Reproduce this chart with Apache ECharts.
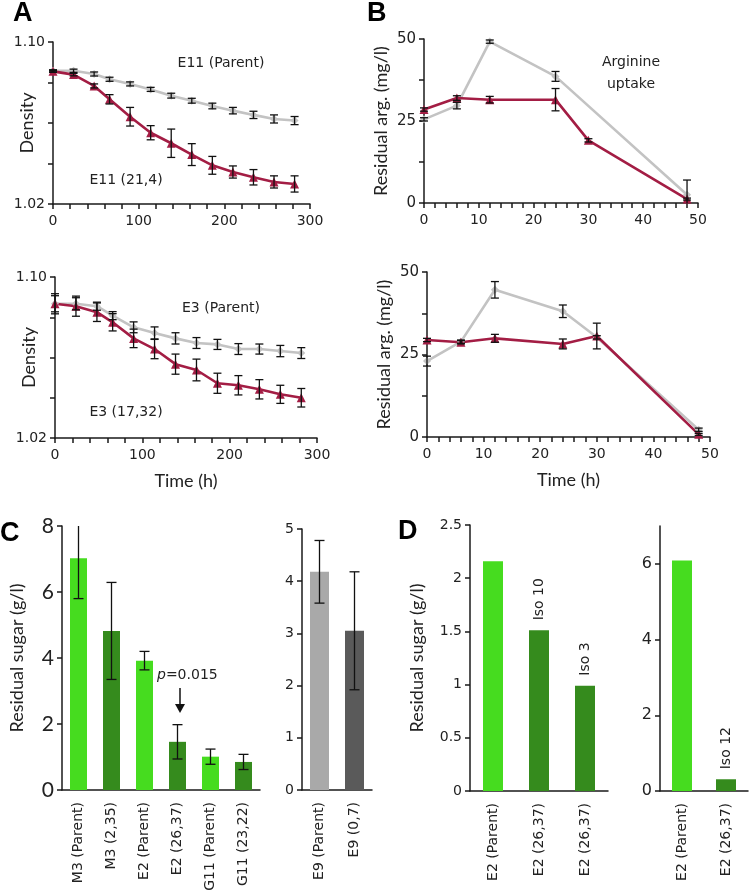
<!DOCTYPE html>
<html>
<head>
<meta charset="utf-8">
<script src="https://cdn.jsdelivr.net/npm/echarts@6/dist/echarts.min.js"></script>
<style>
  html, body { margin: 0; padding: 0; background: #fff; }
  #chart { width: 749px; height: 894px; }
</style>
</head>
<body>
<div id="chart"></div>
<script>
// ---- data ----
let timeA = [0, 24, 48, 66, 90, 114, 138, 162, 186, 210, 234, 258, 282]
let a1Parent = [1.0858, 1.0858, 1.0842, 1.0816, 1.0793, 1.0766, 1.0735, 1.0710, 1.0684, 1.0661, 1.0640, 1.0620, 1.0612]
let a1ParentErr = [0.0005, 0.0008, 0.001, 0.001, 0.001, 0.001, 0.0012, 0.0012, 0.0014, 0.0016, 0.0018, 0.002, 0.002]
let a1Evolved = [1.0855, 1.0839, 1.0783, 1.0717, 1.0631, 1.0552, 1.0500, 1.0444, 1.0391, 1.0358, 1.0332, 1.0309, 1.0299]
let a1EvolvedErr = [0.0005, 0.0006, 0.001, 0.0023, 0.0046, 0.0035, 0.007, 0.0054, 0.0044, 0.003, 0.0038, 0.003, 0.004]

let a2Parent = [1.0867, 1.0867, 1.0855, 1.0808, 1.0750, 1.0722, 1.0695, 1.0672, 1.0665, 1.0642, 1.0642, 1.0632, 1.0622]
let a2ParentErr = [0.004, 0.003, 0.002, 0.002, 0.0027, 0.003, 0.0028, 0.0027, 0.0025, 0.0027, 0.0025, 0.0028, 0.0027]
let a2Evolved = [1.0867, 1.0855, 1.0825, 1.0775, 1.0695, 1.0642, 1.0567, 1.0538, 1.0472, 1.0462, 1.0442, 1.0417, 1.0400]
let a2EvolvedErr = [0.005, 0.005, 0.0046, 0.0043, 0.0046, 0.0048, 0.005, 0.0054, 0.005, 0.0048, 0.0048, 0.0045, 0.0046]

let timeB = [0, 6, 12, 24, 30, 48]
let b1Parent = [25.5, 29.7, 49.2, 38.6, null, 2.5]
let b1ParentErr = [0.5, 1, 0.5, 1.5, null, 4.5]
let b1Evolved = [28.5, 32, 31.5, 31.5, 19.1, 1.2]
let b1EvolvedErr = [0.5, 0.7, 1, 3.4, 0.5, 0.3]

let b2Parent = [23, 28.9, 44.6, 38.1, 30.2, 2.2]
let b2ParentErr = [1.5, 0.5, 2.5, 1.9, 0.5, 0.5]
let b2Evolved = [29.4, 28.7, 29.9, 28.2, 30.6, 0.8]
let b2EvolvedErr = [0.5, 0.5, 1.2, 1.5, 3.9, 0.3]

let c1Names = ['M3 (Parent)', 'M3 (2,35)', 'E2 (Parent)', 'E2 (26,37)', 'G11 (Parent)', 'G11 (23,22)']
let c1Values = [7.02, 4.82, 3.92, 1.46, 1.01, 0.85]
let c1Err = [1.22, 1.47, 0.28, 0.52, 0.23, 0.23]

let c2Names = ['E9 (Parent)', 'E9 (0,7)']
let c2Values = [4.18, 3.05]
let c2Err = [0.6, 1.13]

let d1Names = ['E2 (Parent)', 'E2 (26,37)', 'E2 (26,37)']
let d1Values = [2.16, 1.51, 0.99]
let d1Labels = ['', 'Iso 10', 'Iso 3']

let d2Names = ['E2 (Parent)', 'E2 (26,37)']
let d2Values = [6.09, 0.31]
let d2Labels = ['', 'Iso 12']
let d2Ticks = [0, 2, 4, 6]

// ---- styles ----
let red = '#a31d44'
let grey = '#c3c3c3'
let lightGreen = '#46dc1f'
let darkGreen = '#358b1d'
let axisColor = '#1a1a1a'
let tickFont = 'DejaVu Sans'
let titleFont = 'Lato'

let myChart = echarts.init(document.getElementById('chart'))

let grids = [
    { left: 53, top: 42, width: 257, height: 162 },
    { left: 55, top: 277, width: 262, height: 161 },
    { left: 424, top: 39, width: 274, height: 164 },
    { left: 427, top: 272, width: 283, height: 165 },
    { left: 62, top: 526, width: 198, height: 264 },
    { left: 302, top: 529, width: 70, height: 261 },
    { left: 470, top: 525, width: 138, height: 266 },
    { left: 660, top: 526, width: 88, height: 265 }
]

function lineStyleAxis() {
    return { color: axisColor, width: 1.5 }
}

function valueX(idx, max, interval, showLabel, name) {
    return {
        gridIndex: idx, type: 'value', min: 0, max: max, interval: interval,
        name: name || '', nameLocation: 'middle', nameGap: 34, nameMoveOverlap: false,
        nameTextStyle: { fontFamily: titleFont, fontSize: 18, color: '#222' },
        axisLine: { show: true, onZero: false, lineStyle: lineStyleAxis() },
        axisTick: { show: true, length: 5, lineStyle: lineStyleAxis() },
        minorTick: { show: true, splitNumber: 5, length: 5, lineStyle: lineStyleAxis() },
        splitLine: { show: false },
        axisLabel: { show: showLabel, fontFamily: tickFont, fontSize: 14, color: '#222', margin: 10 }
    }
}

function valueY(idx, min, max, interval, shown, fontSize, name, gap, digits) {
    return {
        gridIndex: idx, type: 'value', min: min, max: max, interval: interval,
        name: name || '', nameLocation: 'middle', nameGap: gap || 30, nameMoveOverlap: false,
        nameTextStyle: { fontFamily: titleFont, fontSize: 18, color: '#222' },
        axisLine: { show: true, lineStyle: lineStyleAxis() },
        axisTick: { show: true, length: 5, lineStyle: lineStyleAxis() },
        splitLine: { show: false },
        axisLabel: {
            fontFamily: tickFont, fontSize: fontSize, color: '#222', margin: 8,
            showMaxLabel: true, showMinLabel: true,
            formatter: function (v) {
                if (shown && !shown.some(s => Math.abs(s - v) < 1e-6)) return ''
                return digits != null ? v.toFixed(digits) : String(v)
            }
        }
    }
}

function catX(idx, names) {
    return {
        gridIndex: idx, type: 'category', data: names,
        axisLine: { show: true, lineStyle: lineStyleAxis() },
        axisTick: { show: false },
        axisLabel: { rotate: 90, interval: 0, fontFamily: tickFont, fontSize: 14, color: '#222', margin: 12 }
    }
}

// error bar drawn through the axes of the series
function errorBar(capHalf) {
    return function (params, api) {
        let x = api.value(0), y = api.value(1), e = api.value(2)
        let hi = api.coord([x, y + e])
        let lo = api.coord([x, y - e])
        let cs = params.coordSys
        let top = Math.max(hi[1], cs.y)
        let bottom = Math.min(lo[1], cs.y + cs.height)
        let st = { stroke: '#111', lineWidth: 1.3 }
        let kids = [{ type: 'line', shape: { x1: hi[0], y1: top, x2: hi[0], y2: bottom }, style: st }]
        if (hi[1] >= cs.y) kids.push({ type: 'line', shape: { x1: hi[0] - capHalf, y1: hi[1], x2: hi[0] + capHalf, y2: hi[1] }, style: st })
        if (lo[1] <= cs.y + cs.height) kids.push({ type: 'line', shape: { x1: lo[0] - capHalf, y1: lo[1], x2: lo[0] + capHalf, y2: lo[1] }, style: st })
        return { type: 'group', children: kids }
    }
}

function pairs(xs, ys) {
    return xs.map((t, i) => [t, ys[i]]).filter(d => d[1] != null)
}
function triples(xs, ys, es) {
    return xs.map((t, i) => [t, ys[i], es[i]]).filter(d => d[1] != null)
}

function lineSeries(idx, xs, ys, color, symbol, size) {
    return {
        type: 'line', xAxisIndex: idx, yAxisIndex: idx, data: pairs(xs, ys),
        symbol: symbol, symbolSize: size, showSymbol: true,
        lineStyle: { color: color, width: 2.6 }, itemStyle: { color: color },
        z: 3, animation: false
    }
}

function errSeries(idx, xs, ys, es, cap) {
    return {
        type: 'custom', xAxisIndex: idx, yAxisIndex: idx, data: triples(xs, ys, es),
        renderItem: errorBar(cap), z: 5, animation: false, silent: true
    }
}

function barSeries(idx, values, colors, width, labels) {
    return {
        type: 'bar', xAxisIndex: idx, yAxisIndex: idx, barWidth: width,
        data: values.map((v, i) => ({ value: v, itemStyle: { color: colors[i % colors.length] } })),
        label: labels ? {
            show: true, position: 'top', rotate: 90, align: 'left', verticalAlign: 'middle', distance: 10,
            fontFamily: tickFont, fontSize: 14, color: '#222',
            formatter: function (p) { return labels[p.dataIndex] }
        } : { show: false },
        animation: false
    }
}

function idxs(arr) { return arr.map((v, i) => i) }

let xAxis = [
    valueX(0, 300, 100, true),
    valueX(1, 300, 100, true, 'Time (h)'),
    valueX(2, 50, 10, true),
    valueX(3, 50, 10, true, 'Time (h)'),
    catX(4, c1Names),
    catX(5, c2Names),
    catX(6, d1Names),
    catX(7, d2Names)
]

let yAxis = [
    valueY(0, 1.02, 1.10, 0.02, [1.02, 1.10], 14, 'Density', 17, 2),
    valueY(1, 1.02, 1.10, 0.02, [1.02, 1.10], 14, 'Density', 17, 2),
    valueY(2, 0, 50, 12.5, [0, 25, 50], 15, 'Residual arg. (mg/l)', 34),
    valueY(3, 0, 50, 12.5, [0, 25, 50], 15, 'Residual arg. (mg/l)', 34),
    valueY(4, 0, 8, 2, null, 20, 'Residual sugar (g/l)', 36),
    valueY(5, 0, 5, 1, null, 14),
    valueY(6, 0, 2.5, 0.5, null, 14, 'Residual sugar (g/l)', 44),
    valueY(7, 0, 7, 2, d2Ticks, 16)
]
yAxis[4].axisLabel.fontFamily = titleFont
yAxis[4].axisLabel.fontSize = 21
yAxis[7].axisTick.customValues = d2Ticks
yAxis[7].axisLabel.customValues = d2Ticks

let series = [
    lineSeries(0, timeA, a1Parent, grey, 'diamond', 8),
    lineSeries(0, timeA, a1Evolved, red, 'triangle', 9),
    errSeries(0, timeA, a1Parent, a1ParentErr, 4),
    errSeries(0, timeA, a1Evolved, a1EvolvedErr, 4),

    lineSeries(1, timeA, a2Parent, grey, 'diamond', 8),
    lineSeries(1, timeA, a2Evolved, red, 'triangle', 9),
    errSeries(1, timeA, a2Parent, a2ParentErr, 4),
    errSeries(1, timeA, a2Evolved, a2EvolvedErr, 4),

    lineSeries(2, timeB, b1Parent, grey, 'diamond', 8),
    lineSeries(2, timeB, b1Evolved, red, 'triangle', 9),
    errSeries(2, timeB, b1Parent, b1ParentErr, 4),
    errSeries(2, timeB, b1Evolved, b1EvolvedErr, 4),

    lineSeries(3, timeB, b2Parent, grey, 'diamond', 8),
    lineSeries(3, timeB, b2Evolved, red, 'triangle', 9),
    errSeries(3, timeB, b2Parent, b2ParentErr, 4),
    errSeries(3, timeB, b2Evolved, b2EvolvedErr, 4),

    barSeries(4, c1Values, [lightGreen, darkGreen], 17),
    errSeries(4, idxs(c1Values), c1Values, c1Err, 5),
    barSeries(5, c2Values, ['#a9a9a9', '#5a5a5a'], 19),
    errSeries(5, idxs(c2Values), c2Values, c2Err, 5),
    barSeries(6, d1Values, [lightGreen, darkGreen, darkGreen], 20, d1Labels),
    barSeries(7, d2Values, [lightGreen, darkGreen], 20, d2Labels)
]

function note(x, y, text, extra) {
    return Object.assign({
        type: 'text', x: x, y: y,
        style: { text: text, fontFamily: tickFont, fontSize: 14, fill: '#222', align: 'center', verticalAlign: 'middle' }
    }, extra || {})
}
function letter(x, y, t) {
    return {
        type: 'text', x: x, y: y,
        style: { text: t, fontFamily: 'Liberation Sans', fontWeight: 'bold', fontSize: 27, fill: '#000', verticalAlign: 'top' }
    }
}

let graphic = [
    letter(13, 0, 'A'),
    letter(367, 0, 'B'),
    letter(0, 520, 'C'),
    letter(398, 518, 'D'),
    note(221, 63, 'E11 (Parent)'),
    note(126, 180, 'E11 (21,4)'),
    note(221, 308, 'E3 (Parent)'),
    note(126, 412, 'E3 (17,32)'),
    note(631, 62, 'Arginine'),
    note(631, 84, 'uptake'),
    {
        type: 'text', x: 157, y: 675,
        style: {
            text: '{i|p}=0.015', fontFamily: tickFont, fontSize: 14, fill: '#222', verticalAlign: 'middle',
            rich: { i: { fontStyle: 'italic', fontFamily: tickFont, fontSize: 14 } }
        }
    },
    { type: 'line', shape: { x1: 180, y1: 688, x2: 180, y2: 708 }, style: { stroke: '#111', lineWidth: 1.5 } },
    { type: 'polygon', shape: { points: [[175, 704], [185, 704], [180, 713]] }, style: { fill: '#111' } }
]

let option = {
    backgroundColor: '#fff',
    animation: false,
    grid: grids,
    xAxis: xAxis,
    yAxis: yAxis,
    series: series,
    graphic: graphic
}

myChart.setOption(option, true)
</script>
</body>
</html>
